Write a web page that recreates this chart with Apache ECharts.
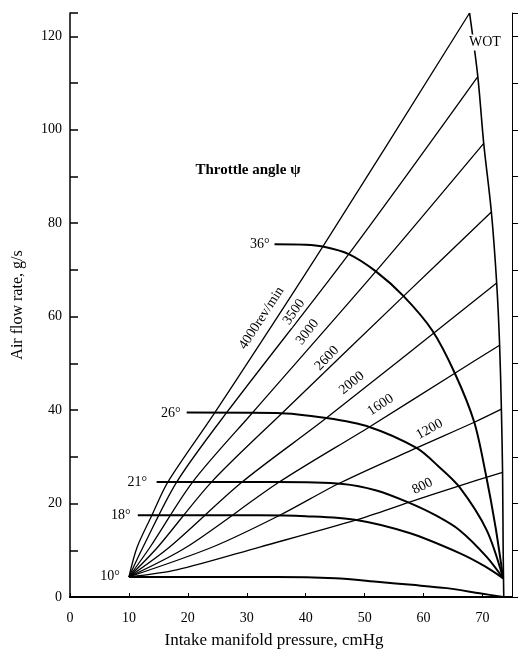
<!DOCTYPE html>
<html>
<head>
<meta charset="utf-8">
<script src="https://cdn.jsdelivr.net/npm/echarts@6/dist/echarts.min.js"></script>
<style>
  html, body { margin: 0; padding: 0; background: #fff; }
  #chart { width: 520px; height: 660px; }
</style>
</head>
<body>
<div id="chart"></div>
<script>
// Engine speed lines (rev/min): [intake pressure cmHg, air flow g/s]
const speedLabels = ['4000rev/min', '3500', '3000', '2600', '2000', '1600', '1200', '800'];
const speed4000 = [[10,4.3],[11.4,10.7],[13.9,17.5],[16.6,24.6],[24.6,39.5],[42.9,75],[67.8,125]];
const speed3500 = [[10,4.3],[12.4,10.7],[18.1,24.6],[26.6,39.5],[47.3,73.4],[69.2,111.4]];
const speed3000 = [[10,4.3],[13.6,10.7],[20.8,24.6],[31,39.5],[51.9,69.7],[70.2,97.1]];
const speed2600 = [[10,4.3],[14.9,10.7],[24,24.6],[36.1,39.5],[56.6,64.4],[71.5,82.4]];
const speed2000 = [[10,4.3],[16.9,10.7],[29.2,24.6],[43.5,38.3],[72.4,67.2]];
const speed1600 = [[10,4.3],[19.8,10.7],[35.5,24.6],[50.8,36.4],[65.3,47.9],[72.9,53.9]];
const speed1200 = [[10,4.3],[24.2,10.7],[35.6,17.5],[45.8,24.4],[58.8,31.9],[68.6,37.4],[73.2,40.2]];
const speed800  = [[10,4.3],[18.1,5.8],[32.2,10.7],[48.6,16.5],[57.6,20.3],[65.8,23.7],[73.4,26.7]];

// Constant throttle angle curves
const throttle10 = [[10,4.3],[35,4.3],[45,4.0],[52.5,3.2],[58,2.6],[63.9,1.9],[69.5,0.8],[73.5,0]];
const throttle18 = [[11.5,17.5],[32,17.5],[40,17.3],[48.6,16.5],[57.6,13.7],[66.1,9.4],[70.5,6.5],[73.5,4]];
const throttle21 = [[14.7,24.6],[35,24.6],[46.3,24.2],[52,22.8],[57.3,20.3],[62,17.5],[66.1,14.3],[70.7,8.6],[73.5,4]];
const throttle26 = [[19.8,39.5],[35,39.4],[43.5,38.3],[50.8,36.4],[58.8,31.9],[62.5,28],[66.1,23.5],[70.7,14.3],[73.5,4]];
const throttle36 = [[34.7,75.5],[40,75.4],[42.9,75],[47.3,73.4],[51.9,69.7],[56.6,64.4],[61.5,57],[65.3,47.9],[68.6,37.4],[70.6,26],[72.2,15],[73.5,4]];

// Wide-open-throttle boundary
const wot = [[67.8,125],[69.2,111.4],[70.2,97.1],[71.5,82.4],[72.4,67.2],[72.9,53.9],[73.2,40.2],[73.4,26.7],[73.5,10],[73.6,0]];

// Text placed on the plot: [x, y, rotation in degrees]
const speedTextPos = [[32.5,59.7,57],[38,61,55],[40.3,56.7,52],[43.6,51.1,46],[47.8,45.8,39],[52.7,41.1,33],[61,35.9,29],[59.8,23.7,27]];
const angleTexts = [[32.2,75.5,'36°'],[17.1,39.3,'26°'],[11.4,24.6,'21°'],[8.6,17.5,'18°'],[6.8,4.5,'10°']];
const titleText = [30.2, 91.3, 'Throttle angle ψ'];
const wotText = [70.4, 118.7, 'WOT'];

const xTicks = [0, 10, 20, 30, 40, 50, 60, 70];
const yTickLabels = [0, 20, 40, 60, 80, 100, 120];

const serif = '"Liberation Serif", "DejaVu Serif", serif';
const speedSets = [speed4000, speed3500, speed3000, speed2600, speed2000, speed1600, speed1200, speed800];
const throttleSets = [throttle10, throttle18, throttle21, throttle26, throttle36];

function lineSeries(d, width, z) {
  return {
    type: 'line', data: d, showSymbol: false, silent: true,
    smooth: 0.3,
    lineStyle: { color: '#000', width: width }, z: z
  };
}

function textLabel(text, size, extra) {
  return Object.assign({
    show: true, position: 'inside', formatter: text,
    fontFamily: serif, fontSize: size, color: '#000', opacity: 1,
    textBorderWidth: 0, textBorderColor: 'transparent'
  }, extra || {});
}

const series = [];
speedSets.forEach(function (d) { series.push(lineSeries(d, 1.3, 2)); });
throttleSets.forEach(function (d) { series.push(lineSeries(d, 2, 3)); });
series.push(lineSeries(wot, 1.6, 3));

// Inline speed labels (white backing breaks the line under the text)
series.push({
  type: 'scatter', symbolSize: 0, silent: true, z: 10,
  itemStyle: { color: '#000', opacity: 1 },
  data: speedTextPos.map(function (p, i) {
    return {
      value: [p[0], p[1]],
      label: textLabel(speedLabels[i], 14, { rotate: p[2], backgroundColor: '#fff', padding: [0, 1] })
    };
  })
});
// Throttle angle labels, heading and WOT tag
series.push({
  type: 'scatter', symbolSize: 0, silent: true, z: 10,
  itemStyle: { color: '#000', opacity: 1 },
  data: angleTexts.map(function (p) {
    return { value: [p[0], p[1]], label: textLabel(p[2], 14) };
  }).concat([
    { value: [titleText[0], titleText[1]], label: textLabel(titleText[2], 15, { fontWeight: 'bold' }) },
    { value: [wotText[0], wotText[1]], label: textLabel(wotText[2], 14, { backgroundColor: '#fff', padding: [1, 1] }) }
  ])
});

const chart = echarts.init(document.getElementById('chart'), null, { renderer: 'canvas' });
chart.setOption({
  animation: false,
  backgroundColor: '#fff',
  grid: { left: 70, right: 8, top: 13, bottom: 63 },
  xAxis: [{
    type: 'value', min: 0, max: 75, interval: 10, position: 'bottom',
    name: 'Intake manifold pressure, cmHg', nameLocation: 'middle', nameGap: 35,
    nameTextStyle: { fontFamily: serif, fontSize: 17, color: '#000', padding: [0, 34, 0, 0] },
    axisLine: { show: true, onZero: false, lineStyle: { color: '#000', width: 1.5 } },
    axisTick: { show: true, inside: true, length: 4, lineStyle: { color: '#000' } },
    axisLabel: {
      fontFamily: serif, fontSize: 14, color: '#000', margin: 14,
      formatter: function (v) { return xTicks.indexOf(v) >= 0 ? String(v) : ''; }
    },
    splitLine: { show: false }
  }, {
    type: 'value', min: 0, max: 75, position: 'top',
    axisLine: { show: true, lineStyle: { color: '#000', width: 2.2 } },
    axisTick: { show: false }, axisLabel: { show: false }, splitLine: { show: false }
  }],
  yAxis: [{
    type: 'value', min: 0, max: 125, interval: 10, position: 'left',
    name: 'Air flow rate, g/s', nameLocation: 'middle', nameGap: 44,
    nameTextStyle: { fontFamily: serif, fontSize: 16, color: '#000' },
    axisLine: { show: true, onZero: false, lineStyle: { color: '#000', width: 1.5 } },
    axisTick: { show: true, inside: true, length: 8, lineStyle: { color: '#000', width: 1.5 } },
    axisLabel: {
      fontFamily: serif, fontSize: 14, color: '#000', margin: 8,
      formatter: function (v) { return yTickLabels.indexOf(v) >= 0 ? String(v) : ''; }
    },
    splitLine: { show: false }
  }, {
    type: 'value', min: 0, max: 125, interval: 10, position: 'right',
    axisLine: { show: true, onZero: false, lineStyle: { color: '#000', width: 1 } },
    axisTick: { show: true, inside: false, length: 6, lineStyle: { color: '#000' } },
    axisLabel: { show: false }, splitLine: { show: false }
  }],
  series: series
});
</script>
</body>
</html>
